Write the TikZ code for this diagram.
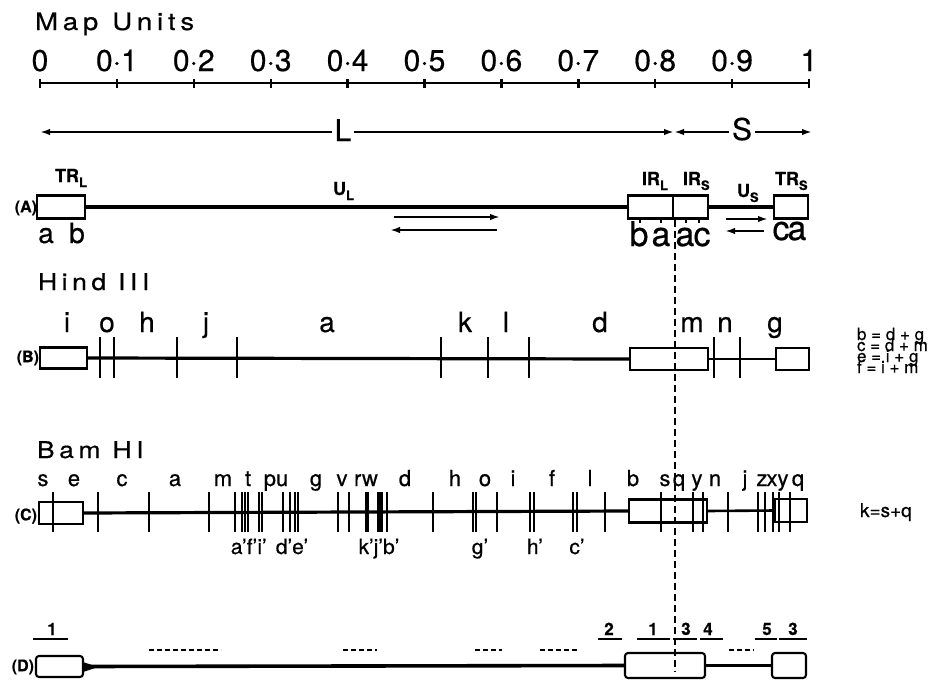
\documentclass[tikz,border=0pt]{standalone}
\usepackage{fontspec}
\setmainfont{TeX Gyre Heros}[FakeBold=0.5]
\newfontfamily\widefont{TeX Gyre Heros}[LetterSpace=20,FakeStretch=1.15,FakeBold=0.5]
\usetikzlibrary{arrows.meta}
\newcommand\fsz[1]{\fontsize{#1}{#1}\selectfont}
\newcommand\subl[2]{#1\raisebox{-5pt}{\fsz{13}#2}}
\begin{document}
\begin{tikzpicture}[x=1pt,y=-1pt,
  every node/.style={inner sep=0pt, outer sep=0pt},
  scl/.style={line width=2.2pt},
  dna/.style={line width=3.2pt},
  dnathin/.style={line width=2.6pt},
  boxn/.style={draw, line width=2.1pt, fill=white},
  rbox/.style={boxn, rounded corners=3pt},
  cut/.style={line width=1.6pt},
  arr/.style={line width=2.1pt, -{Latex[length=10pt,width=6.5pt]}},
  rowid/.style={font=\bfseries\fsz{16}, anchor=east},
  reg/.style={font=\bfseries\fsz{18}, anchor=base west},
  ttl/.style={font=\widefont\fsz{24}, anchor=base west},
  mapno/.style={font=\fsz{30}, anchor=base},
  big/.style={font=\fsz{30}, anchor=base, outer sep=3pt},
  hlab/.style={font=\fsz{28}, anchor=base},
  blab/.style={font=\fsz{22}, anchor=base},
  plab/.style={font=\fsz{21}, anchor=base},
  alab/.style={font=\fsz{28}, anchor=base},
  irlab/.style={font=\fsz{34}, anchor=base},
  eqn/.style={font=\fsz{17}, anchor=base west},
  num/.style={font=\bfseries\fsz{17}, anchor=base},
  uline/.style={line width=2.4pt},
  dsh/.style={line width=2.8pt, dash pattern=on 5pt off 3pt},
  vdash/.style={line width=1.6pt, dash pattern=on 7pt off 4pt}
]
\useasboundingbox (0,0) rectangle (943,683);

% ---------- Map units scale ----------
\node[ttl] (title) at (35,30) {Map\hspace{14pt}Units};
\coordinate (sc0) at (40,83);
\coordinate (sc1) at (809,83);
\draw[scl] (sc0) -- (sc1);
\foreach \i/\t in {0/0,1/0·1,2/0·2,3/0·3,4/0·4,5/0·5,6/0·6,7/0·7,8/0·8,9/0·9,10/1}{
  \draw[line width=2.4pt] (40+76.9*\i,79) -- (40+76.9*\i,88);
  \node[mapno] (n\i) at (40+76.9*\i,71) {\t};
}

% ---------- L / S ----------
\node[big] (Lt) at (343,141) {L};
\node[big] (St) at (742,140) {S};
\coordinate (Le) at (40,132);
\coordinate (LS) at (674,132);
\coordinate (Se) at (812,132);
\draw[arr] (Lt.west |- Le) -- (Le);
\draw[arr] (Lt.east |- LS) -- (LS);
\draw[arr] (St.west |- LS) -- (LS);
\draw[arr] (St.east |- Se) -- (Se);

% ---------- Row A ----------
\node[rowid] (rA) at (37,208) {(A)};
\node[boxn, minimum width=48pt, minimum height=23pt] (trl) at (61,207) {};
\node[boxn, minimum width=45pt, minimum height=23pt] (irl) at (650.5,207) {};
\node[boxn, minimum width=35pt, minimum height=23pt] (irs) at (690.5,207) {};
\node[boxn, minimum width=34pt, minimum height=23pt] (trs) at (791,207) {};
\draw[dna] (trl.east) -- (irl.west);
\draw[dna] (irs.east) -- (trs.west);
\foreach \x in {640,661,686,699} \draw[cut] (\x,218.5) -- (\x,223);
\node[reg] (tTRL) at (55,182) {\subl{TR}{L}};
\node[reg] (tUL) at (333,195) {\subl{U}{L}};
\node[reg] (tIRL) at (642,185) {\subl{IR}{L}};
\node[reg] (tIRS) at (683,185) {\subl{IR}{S}};
\node[reg] (tUS) at (737,197) {\subl{U}{S}};
\node[reg] (tTRS) at (775,185) {\subl{TR}{S}};
\node[alab] (aa) at (46,243) {a};
\node[alab] (ab) at (77,243) {b};
\node[irlab] (ib1) at (639,246) {b};
\node[irlab] (ia1) at (661,246) {a};
\node[irlab] (ia2) at (685,246) {a};
\node[irlab] (ic2) at (702,246) {c};
\node[irlab] (sc) at (781,240) {c};
\node[irlab] (sa) at (797,240) {a};
\coordinate (a1s) at (394,217);
\coordinate (a1e) at (500,217);
\coordinate (a2s) at (497,230);
\coordinate (a2e) at (390,230);
\draw[arr] (a1s) -- (a1e);
\draw[arr] (a2s) -- (a2e);
\coordinate (b1s) at (726,219);
\coordinate (b1e) at (768,219);
\coordinate (b2s) at (764,231);
\coordinate (b2e) at (725,231);
\draw[arr] (b1s) -- (b1e);
\draw[arr] (b2s) -- (b2e);

% ---------- Row B : Hind III ----------
\node[ttl, font=\widefont\fsz{23}] (hind) at (38,290) {Hind III};
\node[rowid] (rB) at (39,358) {(B)};
\node[boxn, minimum width=47pt, minimum height=21pt] (hb1) at (63.5,358) {};
\node[boxn, minimum width=78pt, minimum height=22pt] (hbm) at (669,359) {};
\node[boxn, minimum width=33pt, minimum height=22pt] (hbr) at (792.5,359) {};
\draw[dna] (hb1.east) -- (hbm.west);
\draw[dnathin] (hbm.east) -- (hbr.west);
\foreach \x in {100,114,177,237,441,488,529,714,740} \draw[cut] (\x,337) -- (\x,378);
\foreach \x/\t in {67/i,107/o,147/h,206/j,327/a,465/k,506/l,600/d,692/m,725/n,775/g}
  \node[hlab] (h\t) at (\x,332) {\t};
\node[eqn] (eq1) at (857,340) {b = d + g};
\node[eqn] (eq2) at (857,351) {c = d + m};
\node[eqn] (eq3) at (857,362) {e = i + g};
\node[eqn] (eq4) at (857,373) {f = i + m};

% ---------- Row C : Bam HI ----------
\node[ttl, font=\widefont\fsz{23}] (bam) at (37,458) {Bam HI};
\node[rowid] (rC) at (37,516) {(C)};
\node[boxn, minimum width=44pt, minimum height=22pt] (cb1) at (61,513) {};
\node[boxn, minimum width=78pt, minimum height=23pt] (cbm) at (668,511) {};
\node[boxn, minimum width=32pt, minimum height=23pt] (cbr) at (791,510.5) {};
\draw[dna] (cb1.east) -- (cbm.west);
\draw[dnathin] (cbm.east) -- (cbr.west);
\foreach \x in {53,98,149,209,235,242,245,248,259,262,283,290,295,298,338,349,378,380,382,387,433,473,476,497,530,534,573,577,605,661,693,703,728,758,765,773,779,790}
  \draw[cut] (\x,492) -- (\x,532);
\draw[line width=3.4pt] (367,492) -- (367,532);
\foreach \x/\t/\k in {43/s/1,74/e/2,122/c/3,175/a/4,223/m/5,248/t/6,276/pu/7,316/g/8,342/v/9,366/rw/10,405/d/11,455/h/12,485/o/13,513/i/14,552/f/15,590/l/16,633/b/17,665/s/18,679/q/19,697/y/20,715/n/21,745/j/22,762/z/23,772/x/24,783/y/25,798/q/26}
  \node[blab] (c\k) at (\x,486) {\t};
\node[plab] (p1) at (244,554) {a'f'};
\node[plab] (p2) at (262,554) {i'};
\node[plab] (p3) at (292,554) {d'e'};
\node[plab] (p4) at (379,554) {k'j'b'};
\node[plab] (p5) at (480,554) {g'};
\node[plab] (p6) at (535,554) {h'};
\node[plab] (p7) at (577,554) {c'};
\node[eqn, font=\fsz{19}] (eqk) at (860,517) {k=s+q};

% ---------- Row D ----------
\node[rowid] (rD) at (34,667) {(D)};
\node[rbox, minimum width=47pt, minimum height=21pt] (db1) at (59.5,666.5) {};
\node[rbox, minimum width=80pt, minimum height=25pt] (dbm) at (665,665.5) {};
\node[rbox, minimum width=34pt, minimum height=25pt] (dbr) at (789,665.5) {};
\draw[line width=3.6pt] (db1.east) -- (dbm.west);
\draw[dna] (dbm.east) -- (dbr.west);
\fill (83,662) -- (98,667) -- (83,672) -- cycle;
\foreach \a/\b in {149/221,343/377,475/502,540/579,729/754}
  \draw[dsh] (\a,650) -- (\b,650);
\foreach \x/\t/\a/\b/\k in {52/1/33/68/1,609/2/598/622/2,653/1/637/670/3,686/3/673/697/4,708/4/700/723/5,767/5/755/777/6,793/3/779/807/7}{
  \node[num] (d\k) at (\x,635) {\t};
  \draw[uline] (\a,639) -- (\b,639);
}

% ---------- dashed vertical ----------
\coordinate (vtop) at (675,220);
\coordinate (vbot) at (675,672);
\draw[vdash] (vtop) -- (vbot);
\end{tikzpicture}
\end{document}
